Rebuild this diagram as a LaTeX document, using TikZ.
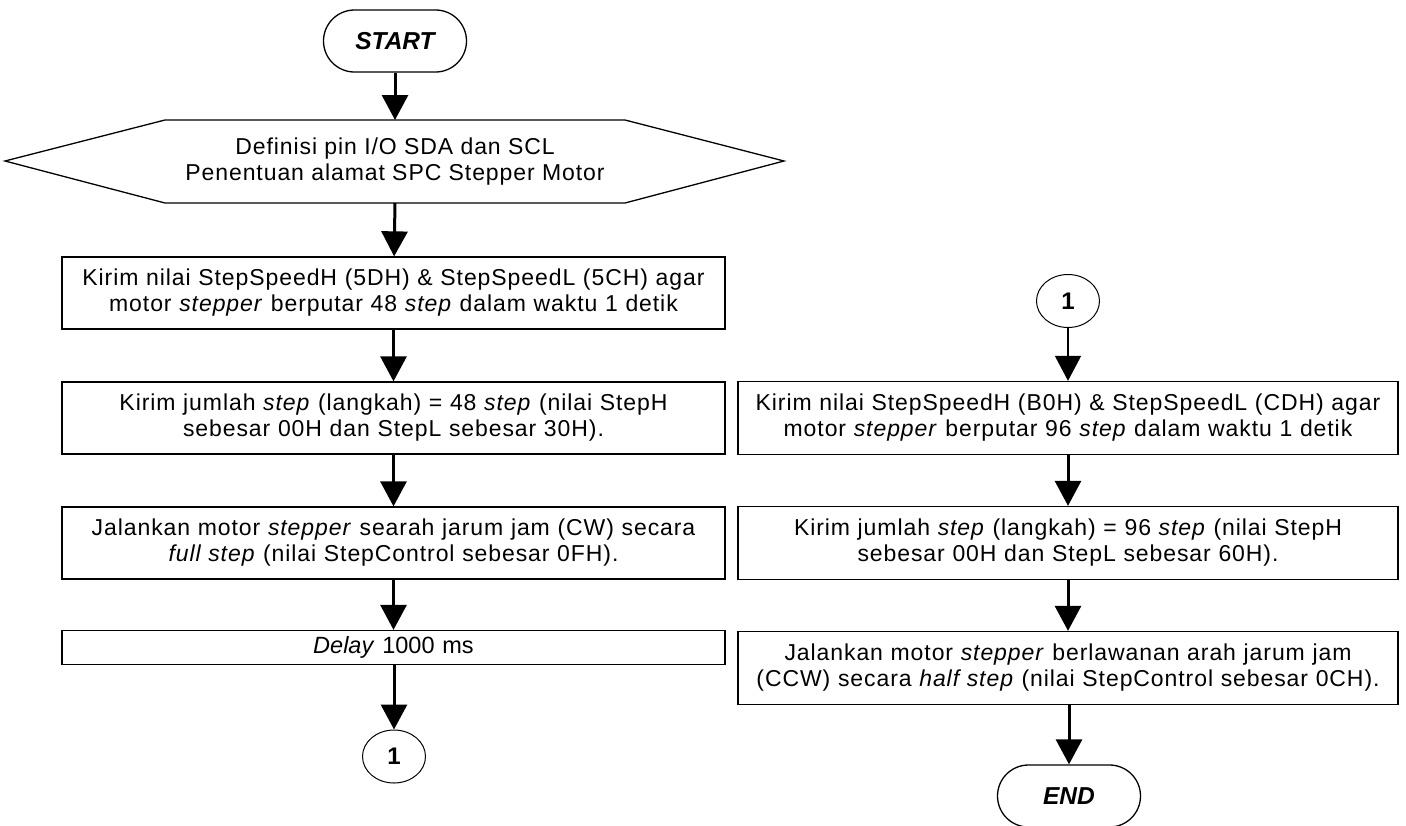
\documentclass[tikz,border=0pt]{standalone}
\usepackage{fontspec}
\setmainfont{Liberation Sans}
\newfontfamily\spacedfont{Liberation Sans}[LetterSpace=4]
\usetikzlibrary{arrows.meta,shapes.geometric}
\begin{document}
\begin{tikzpicture}[x=1pt,y=-1pt,
  txt/.style={font=\spacedfont\fontsize{23}{26}\selectfont},
  term/.style={draw, line width=1.3pt, rounded corners=31pt, minimum width=143pt, minimum height=62pt, inner sep=0pt, font=\fontsize{24.5}{28}\selectfont\bfseries\itshape},
  lbox/.style={draw, line width=1.3pt, minimum width=663pt, text width=655pt, align=center, minimum height=72pt, inner sep=0pt, txt},
  rbox/.style={draw, line width=1.3pt, minimum width=660pt, text width=655pt, align=center, minimum height=73pt, inner sep=0pt, txt},
  conn/.style={draw, line width=1pt, ellipse, minimum width=63pt, minimum height=53pt, inner sep=0pt, font=\fontsize{24}{26}\selectfont\bfseries},
  arr/.style={line width=3pt, -{Triangle[length=25pt, width=26pt]}},
  thinarr/.style={line width=1.6pt, -{Triangle[length=25pt, width=26pt]}},
  hexline/.style={line width=1.3pt, line join=miter}
]
\useasboundingbox (0,0) rectangle (1406,825);

% left column
\node[term] (start) at (395,41) {START};
\node[txt, align=center] (hex) at (395,162) {Definisi pin I/O SDA dan SCL\\Penentuan alamat SPC Stepper Motor};
\draw[hexline] (5,161) -- (165,120) -- (625,120) -- (784,161) -- (625,203) -- (165,203) -- cycle;
\coordinate (hexN) at (395,120);
\coordinate (hexS) at (395,203);
\node[lbox] (b1) at (393.5,293) {Kirim nilai StepSpeedH (5DH) \& StepSpeedL (5CH) agar\\motor \textit{stepper} berputar 48 \textit{step} dalam waktu 1 detik};
\node[lbox] (b2) at (393.5,418) {Kirim jumlah \textit{step} (langkah) = 48 \textit{step} (nilai StepH\\sebesar 00H dan StepL sebesar 30H).};
\node[lbox] (b3) at (393.5,543) {Jalankan motor \textit{stepper} searah jarum jam (CW) secara\\\textit{full step} (nilai StepControl sebesar 0FH).};
\node[lbox, minimum height=34pt, font=\fontsize{23.5}{26}\selectfont] (b4) at (393.5,647.5) {\textit{Delay} 1000 ms};
\node[conn] (c1) at (394,756.5) {1};

\draw[arr] (start) -- (hexN);
\draw[arr] (hexS) -- (b1);
\draw[arr] (b1) -- (b2);
\draw[arr] (b2) -- (b3);
\draw[arr] (b3) -- (b4);
\draw[arr] (b4.south -| c1) -- (c1);

% right column
\node[conn] (c2) at (1068,301) {1};
\node[rbox] (r1) at (1068,418) {Kirim nilai StepSpeedH (B0H) \& StepSpeedL (CDH) agar\\motor \textit{stepper} berputar 96 \textit{step} dalam waktu 1 detik};
\node[rbox] (r2) at (1068,543) {Kirim jumlah \textit{step} (langkah) = 96 \textit{step} (nilai StepH\\sebesar 00H dan StepL sebesar 60H).};
\node[rbox] (r3) at (1068,668) {Jalankan motor \textit{stepper} berlawanan arah jarum jam\\(CCW) secara \textit{half step} (nilai StepControl sebesar 0CH).};
\node[term] (end) at (1069,796) {END};

\draw[thinarr] (c2) -- (r1);
\draw[arr] (r1) -- (r2);
\draw[arr] (r2) -- (r3);
\draw[arr] (r3.south -| end) -- (end);
\end{tikzpicture}
\end{document}
